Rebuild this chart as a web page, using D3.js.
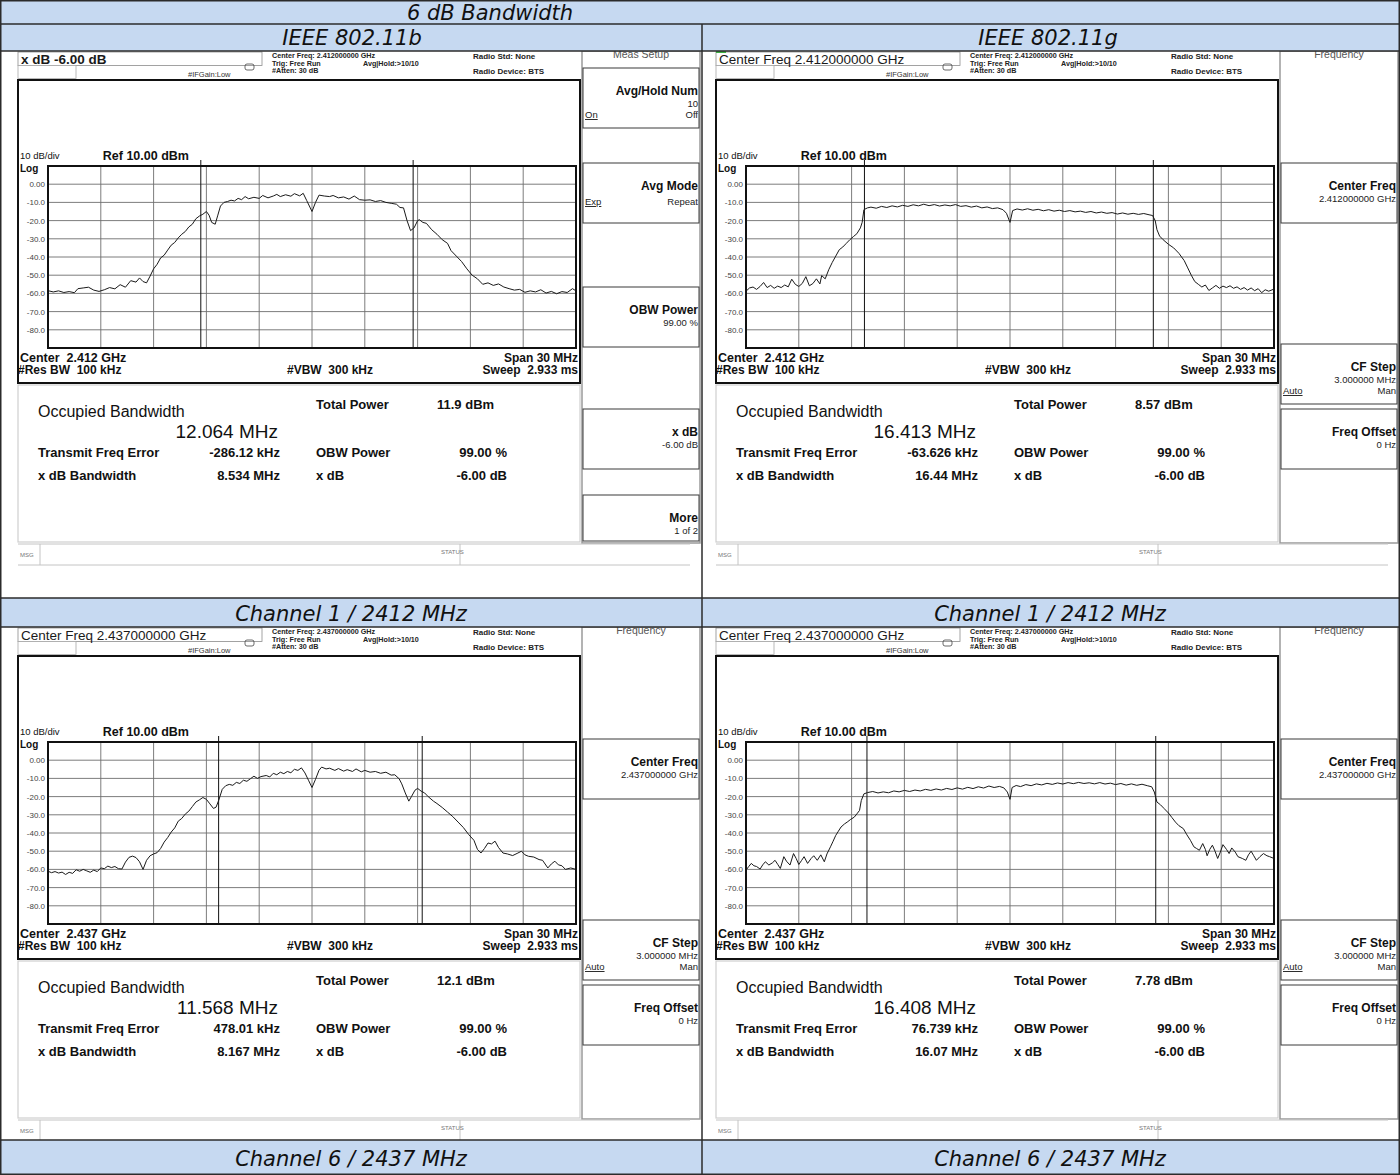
<!DOCTYPE html>
<html>
<head>
<meta charset="utf-8">
<script src="https://cdn.jsdelivr.net/npm/d3@7"></script>
<style>
  body { margin: 0; background: #fff; }
  svg text { white-space: pre; }
</style>
</head>
<body>
<script>
// ---- data ----
const tableTitle = "6 dB Bandwidth";
const standards = ["IEEE 802.11b", "IEEE 802.11g"];
const channelLabels = ["Channel 1 / 2412 MHz", "Channel 6 / 2437 MHz"];
const centerGHz = ["2.412", "2.437"];
const centerFreqLabel = ["2.412000000 GHz", "2.437000000 GHz"];

// panel order: 11b ch1, 11g ch1, 11b ch6, 11g ch6
const obwMHz = [12.064, 16.413, 11.568, 16.408];
const totalPower = ["11.9 dBm", "8.57 dBm", "12.1 dBm", "7.78 dBm"];
const freqError = ["-286.12 kHz", "-63.626 kHz", "478.01 kHz", "76.739 kHz"];
const xdbBandwidth = ["8.534 MHz", "16.44 MHz", "8.167 MHz", "16.07 MHz"];

const yTickValues = [0, -10, -20, -30, -40, -50, -60, -70, -80];
const yTickLabels = ["0.00", "-10.0", "-20.0", "-30.0", "-40.0", "-50.0", "-60.0", "-70.0", "-80.0"];
const xGridMHz = [-12, -9, -6, -3, 0, 3, 6, 9, 12];

// traces: [offset from center in MHz, level in dBm]
const traceB1 = [[-15.0,-58.5],[-14.7,-59.2],[-14.4,-58.6],[-14.1,-59.5],[-13.8,-59.0],[-13.5,-59.6],[-13.3,-57.4],[-13.0,-57.0],[-12.7,-56.6],[-12.4,-58.2],[-12.1,-58.9],[-11.8,-58.0],[-11.5,-56.8],[-11.2,-57.5],[-10.9,-55.2],[-10.6,-56.6],[-10.3,-53.0],[-10.0,-53.8],[-9.8,-51.5],[-9.6,-53.5],[-9.4,-54.2],[-9.2,-50.5],[-9.0,-46.5],[-8.8,-44.0],[-8.6,-40.5],[-8.4,-39.0],[-8.2,-36.2],[-8.0,-33.5],[-7.8,-32.0],[-7.6,-29.5],[-7.4,-27.5],[-7.2,-26.0],[-7.0,-23.5],[-6.8,-22.0],[-6.6,-19.0],[-6.4,-17.5],[-6.2,-16.5],[-6.0,-15.0],[-5.85,-17.0],[-5.7,-21.0],[-5.5,-22.0],[-5.35,-17.0],[-5.2,-12.0],[-5.0,-10.0],[-4.8,-9.5],[-4.6,-8.8],[-4.4,-9.2],[-4.2,-7.8],[-4.0,-8.5],[-3.8,-6.8],[-3.6,-8.0],[-3.3,-7.2],[-3.0,-7.8],[-2.8,-6.2],[-2.5,-7.5],[-2.2,-6.5],[-2.0,-5.6],[-1.8,-6.8],[-1.5,-5.8],[-1.2,-6.6],[-1.0,-5.2],[-0.7,-6.4],[-0.5,-5.0],[-0.3,-9.0],[0.0,-15.0],[0.2,-10.0],[0.4,-6.0],[0.7,-6.5],[1.0,-6.8],[1.2,-6.2],[1.5,-7.5],[1.8,-7.0],[2.1,-8.2],[2.4,-6.5],[2.7,-8.5],[3.0,-8.8],[3.3,-8.6],[3.6,-9.5],[3.9,-9.0],[4.2,-10.0],[4.5,-10.5],[4.8,-11.0],[5.0,-12.8],[5.2,-13.0],[5.4,-20.0],[5.6,-25.5],[5.8,-24.0],[6.0,-20.0],[6.1,-19.5],[6.3,-21.0],[6.5,-21.5],[6.8,-25.0],[7.1,-27.5],[7.4,-30.5],[7.7,-32.5],[7.9,-36.5],[8.2,-39.5],[8.5,-42.5],[8.8,-46.5],[9.1,-50.0],[9.4,-52.0],[9.7,-55.0],[10.0,-54.2],[10.3,-55.6],[10.6,-54.8],[10.9,-56.5],[11.2,-57.4],[11.5,-58.2],[11.8,-57.8],[12.1,-59.4],[12.4,-58.6],[12.7,-59.2],[13.0,-58.0],[13.3,-59.8],[13.6,-58.9],[13.9,-60.2],[14.2,-59.0],[14.5,-59.5],[14.8,-57.4],[15.0,-58.6]];

const traceG1 = [[-15.0,-58.8],[-14.8,-57.0],[-14.6,-56.5],[-14.4,-57.8],[-14.2,-56.2],[-14.0,-54.0],[-13.8,-56.8],[-13.6,-55.6],[-13.4,-57.2],[-13.2,-56.0],[-13.0,-56.8],[-12.8,-55.4],[-12.6,-56.4],[-12.4,-52.2],[-12.2,-55.0],[-12.0,-56.2],[-11.8,-54.5],[-11.6,-50.8],[-11.4,-55.8],[-11.2,-54.6],[-11.0,-52.0],[-10.8,-54.8],[-10.7,-50.2],[-10.5,-52.0],[-10.3,-47.0],[-10.1,-43.0],[-9.9,-39.5],[-9.7,-36.0],[-9.5,-34.5],[-9.3,-32.5],[-9.1,-30.5],[-8.9,-28.8],[-8.7,-27.2],[-8.5,-24.0],[-8.4,-21.0],[-8.3,-14.0],[-8.1,-13.0],[-7.9,-12.6],[-7.6,-13.2],[-7.3,-12.2],[-7.0,-12.8],[-6.7,-11.9],[-6.4,-12.5],[-6.1,-11.6],[-5.8,-12.2],[-5.5,-11.3],[-5.2,-11.9],[-4.9,-11.0],[-4.6,-11.8],[-4.3,-11.2],[-4.0,-12.0],[-3.7,-11.4],[-3.4,-11.9],[-3.1,-11.2],[-2.8,-12.2],[-2.5,-11.8],[-2.2,-12.6],[-1.9,-12.0],[-1.6,-13.0],[-1.3,-12.5],[-1.0,-13.4],[-0.7,-13.0],[-0.4,-14.0],[-0.2,-16.0],[0.0,-21.0],[0.15,-14.5],[0.4,-13.6],[0.7,-14.2],[1.0,-13.5],[1.3,-14.3],[1.6,-13.8],[1.9,-14.6],[2.2,-14.0],[2.5,-14.8],[2.8,-14.3],[3.1,-15.0],[3.4,-14.5],[3.7,-15.2],[4.0,-14.8],[4.3,-15.5],[4.6,-15.0],[4.9,-15.8],[5.2,-15.3],[5.5,-16.0],[5.8,-15.6],[6.1,-16.4],[6.4,-15.8],[6.7,-16.5],[7.0,-16.0],[7.3,-16.6],[7.6,-16.1],[7.9,-16.8],[8.1,-17.2],[8.25,-20.0],[8.35,-25.0],[8.5,-28.5],[8.7,-30.5],[9.0,-33.0],[9.3,-35.0],[9.6,-38.0],[9.9,-42.0],[10.1,-46.0],[10.3,-50.0],[10.5,-53.5],[10.7,-55.0],[10.9,-56.5],[11.1,-55.4],[11.3,-58.4],[11.5,-57.0],[11.7,-55.6],[11.9,-57.2],[12.1,-56.0],[12.3,-56.8],[12.5,-55.8],[12.7,-57.2],[12.9,-56.4],[13.1,-57.8],[13.3,-56.8],[13.5,-58.2],[13.7,-57.0],[13.9,-58.5],[14.1,-57.4],[14.3,-59.6],[14.5,-58.0],[14.7,-58.8],[15.0,-57.6]];

const traceB6 = [[-15.0,-61.0],[-14.8,-61.8],[-14.6,-61.2],[-14.4,-62.0],[-14.2,-61.5],[-14.0,-62.8],[-13.8,-61.6],[-13.6,-62.2],[-13.4,-60.2],[-13.2,-61.0],[-13.0,-60.0],[-12.8,-60.8],[-12.6,-61.6],[-12.4,-60.4],[-12.2,-61.2],[-12.0,-59.2],[-11.8,-59.6],[-11.6,-58.2],[-11.4,-59.0],[-11.2,-58.4],[-11.0,-59.6],[-10.8,-59.8],[-10.6,-56.0],[-10.4,-53.4],[-10.2,-52.7],[-10.0,-53.5],[-9.8,-55.8],[-9.6,-60.0],[-9.4,-55.0],[-9.2,-52.5],[-9.0,-51.5],[-8.8,-50.8],[-8.6,-48.5],[-8.4,-45.0],[-8.2,-42.5],[-8.0,-39.5],[-7.8,-37.2],[-7.6,-33.5],[-7.4,-32.0],[-7.2,-29.6],[-7.0,-28.0],[-6.8,-25.5],[-6.6,-23.0],[-6.4,-21.8],[-6.2,-20.5],[-6.0,-21.5],[-5.8,-24.0],[-5.6,-26.5],[-5.45,-25.8],[-5.3,-22.0],[-5.1,-16.0],[-4.9,-14.0],[-4.7,-13.3],[-4.5,-13.8],[-4.3,-12.2],[-4.1,-12.8],[-3.9,-11.0],[-3.7,-11.6],[-3.5,-10.2],[-3.3,-8.8],[-3.1,-10.0],[-2.9,-9.0],[-2.6,-8.4],[-2.4,-9.2],[-2.2,-7.2],[-2.0,-8.0],[-1.8,-6.6],[-1.6,-7.4],[-1.4,-6.2],[-1.2,-6.9],[-1.0,-5.0],[-0.8,-5.6],[-0.6,-4.2],[-0.4,-7.0],[-0.2,-11.0],[0.0,-15.0],[0.2,-10.5],[0.4,-5.5],[0.55,-3.8],[0.8,-4.8],[1.0,-4.4],[1.3,-5.6],[1.5,-4.6],[1.8,-6.0],[2.0,-5.2],[2.3,-6.2],[2.5,-4.8],[2.8,-6.4],[3.0,-5.6],[3.3,-6.6],[3.6,-6.2],[3.9,-7.2],[4.2,-6.6],[4.5,-8.2],[4.7,-8.0],[4.95,-10.2],[5.1,-13.0],[5.3,-18.0],[5.5,-22.5],[5.65,-20.0],[5.85,-16.5],[6.0,-15.5],[6.2,-17.0],[6.4,-18.0],[6.6,-20.0],[6.9,-22.5],[7.1,-23.8],[7.4,-26.0],[7.7,-28.5],[8.0,-31.0],[8.3,-34.0],[8.6,-37.0],[8.9,-40.8],[9.2,-44.0],[9.4,-49.0],[9.6,-51.0],[9.8,-48.5],[10.0,-45.5],[10.2,-46.0],[10.4,-44.5],[10.6,-48.0],[10.85,-51.0],[11.1,-51.5],[11.4,-52.4],[11.7,-51.0],[11.9,-50.0],[12.1,-52.0],[12.3,-52.8],[12.6,-53.2],[12.9,-54.6],[13.1,-55.0],[13.4,-59.2],[13.6,-57.0],[13.8,-55.5],[14.0,-57.5],[14.2,-58.0],[14.4,-60.0],[14.7,-59.2],[15.0,-60.0]];

const traceG6 = [[-15.0,-60.4],[-14.85,-58.5],[-14.7,-56.7],[-14.55,-58.0],[-14.4,-58.4],[-14.2,-59.8],[-14.05,-57.5],[-13.9,-55.8],[-13.7,-57.6],[-13.5,-56.4],[-13.35,-55.0],[-13.2,-57.2],[-13.05,-59.5],[-12.85,-53.0],[-12.7,-55.5],[-12.5,-57.6],[-12.3,-51.3],[-12.15,-54.0],[-12.0,-57.3],[-11.85,-55.2],[-11.7,-53.0],[-11.5,-56.7],[-11.3,-54.0],[-11.15,-52.5],[-10.95,-55.0],[-10.75,-52.0],[-10.55,-55.8],[-10.4,-51.5],[-10.2,-47.6],[-10.05,-44.5],[-9.9,-41.3],[-9.75,-39.0],[-9.6,-36.7],[-9.4,-35.0],[-9.25,-34.0],[-9.05,-32.5],[-8.85,-31.3],[-8.7,-29.5],[-8.55,-27.6],[-8.45,-22.2],[-8.3,-18.5],[-8.1,-17.8],[-7.8,-17.2],[-7.5,-18.0],[-7.2,-17.4],[-6.9,-17.9],[-6.6,-16.9],[-6.3,-17.4],[-6.0,-16.6],[-5.7,-17.2],[-5.4,-16.4],[-5.1,-16.9],[-4.8,-16.0],[-4.5,-16.6],[-4.2,-15.8],[-3.9,-16.4],[-3.6,-15.5],[-3.3,-16.1],[-3.0,-15.2],[-2.7,-15.9],[-2.4,-14.9],[-2.1,-15.6],[-1.8,-14.6],[-1.5,-15.3],[-1.2,-14.2],[-0.9,-15.0],[-0.6,-14.4],[-0.35,-15.2],[-0.15,-17.5],[0.0,-21.5],[0.12,-15.0],[0.35,-13.9],[0.6,-14.5],[0.9,-13.4],[1.2,-14.0],[1.5,-13.0],[1.8,-13.6],[2.1,-12.7],[2.4,-13.3],[2.7,-12.5],[3.0,-13.1],[3.3,-12.3],[3.6,-12.9],[3.9,-12.2],[4.2,-12.8],[4.5,-12.4],[4.8,-13.0],[5.1,-12.3],[5.4,-13.1],[5.7,-12.6],[6.0,-13.4],[6.3,-12.8],[6.6,-13.7],[6.9,-13.0],[7.2,-13.8],[7.5,-13.2],[7.8,-14.0],[8.05,-14.6],[8.2,-17.5],[8.35,-23.0],[8.55,-24.5],[8.75,-26.5],[9.0,-29.0],[9.2,-31.5],[9.4,-34.0],[9.6,-36.0],[9.85,-37.6],[10.05,-41.0],[10.25,-44.0],[10.45,-47.6],[10.6,-48.5],[10.76,-49.5],[10.95,-45.8],[11.1,-49.0],[11.2,-52.5],[11.35,-49.0],[11.5,-46.7],[11.65,-50.0],[11.8,-54.0],[11.95,-50.5],[12.1,-46.4],[12.3,-49.0],[12.45,-51.3],[12.6,-48.2],[12.8,-50.5],[12.95,-53.0],[13.2,-54.0],[13.4,-55.0],[13.55,-52.0],[13.7,-50.0],[13.85,-52.5],[14.0,-55.0],[14.2,-53.0],[14.4,-51.3],[14.6,-52.5],[14.75,-53.0],[15.0,-54.0]];

const traces = [traceB1, traceG1, traceB6, traceG6];

// softkey menus
const measSetupKeys = [
  { slot: 0, label: "Avg/Hold Num", sub: "10", left: "On", right: "Off" },
  { slot: 1, label: "Avg Mode", left: "Exp", right: "Repeat" },
  { slot: 3, label: "OBW Power", sub: "99.00 %" },
  { slot: 5, label: "x dB", sub: "-6.00 dB" },
  { slot: 6, label: "More", sub: "1 of 2" }
];
function frequencyKeys(ch) {
  return [
    { slot: 1, label: "Center Freq", sub: centerFreqLabel[ch] },
    { slot: 4, label: "CF Step", sub: "3.000000 MHz", left: "Auto", right: "Man" },
    { slot: 5, label: "Freq Offset", sub: "0 Hz" }
  ];
}

// ---- layout ----
const width = 1400, height = 1175;
const rowTop = [0, 24, 51, 598, 627, 1140, 1175];
const colSplit = 702;
const panelX = [18, 716], panelY = [51, 627];
const slotTop = [17, 112, 174, 236, 293, 358, 444];

const blue = "#c6d9f1";
const fontMain = "'Liberation Sans', Arial, sans-serif";
const fontNarrow = "'Liberation Sans Narrow', 'Liberation Sans', Arial, sans-serif";

const svg = d3.select("body").append("svg")
  .attr("width", width)
  .attr("height", height);

svg.append("rect").attr("width", width).attr("height", height).attr("fill", "#fff");

// small helper for text
function txt(sel, x, y, s, o = {}) {
  return sel.append("text")
    .attr("x", x).attr("y", y)
    .attr("font-family", o.family || fontMain)
    .attr("font-size", o.size || 10)
    .attr("font-weight", o.weight || "normal")
    .attr("fill", o.fill || "#111")
    .attr("text-anchor", o.anchor || "start")
    .text(s);
}

function drawPanel(g, i) {
  const ch = Math.floor(i / 2);

  // top measurement bar
  g.append("rect").attr("x", 0).attr("y", 1).attr("width", 244).attr("height", 13.5)
    .attr("fill", "#fff").attr("stroke", "#8c8c8c").attr("stroke-width", 0.8);
  txt(g, 3, 12.5, i === 0 ? "x dB -6.00 dB" : "Center Freq " + centerFreqLabel[ch],
    { size: 13.5, weight: i === 0 ? "bold" : "normal", fill: "#1a1a1a" });
  if (i === 1) {
    g.append("line").attr("x1", 0).attr("x2", 10).attr("y1", 1).attr("y2", 1)
      .attr("stroke", "#3cb043").attr("stroke-width", 2);
  }
  g.append("rect").attr("x", 0).attr("y", 14.5).attr("width", 58).attr("height", 13)
    .attr("fill", "#fff").attr("stroke", "#a8a8a8").attr("stroke-width", 0.8);
  g.append("rect").attr("x", 227).attr("y", 13).attr("width", 9).attr("height", 6).attr("rx", 2)
    .attr("fill", "none").attr("stroke", "#444").attr("stroke-width", 0.8);
  txt(g, 170, 26, "#IFGain:Low", { size: 7.5, family: fontNarrow, fill: "#333" });
  txt(g, 254, 7, "Center Freq: " + centerFreqLabel[ch], { size: 7.2, family: fontNarrow, weight: "bold", fill: "#222" });
  txt(g, 254, 14.5, "Trig: Free Run", { size: 7.2, family: fontNarrow, weight: "bold", fill: "#222" });
  txt(g, 345, 14.5, "Avg|Hold:>10/10", { size: 7.2, family: fontNarrow, weight: "bold", fill: "#222" });
  txt(g, 254, 22, "#Atten: 30 dB", { size: 7.2, family: fontNarrow, weight: "bold", fill: "#222" });
  txt(g, 455, 8, "Radio Std: None", { size: 8, weight: "bold", fill: "#222" });
  txt(g, 455, 23, "Radio Device: BTS", { size: 8, weight: "bold", fill: "#222" });

  // graph window
  g.append("rect").attr("x", 0).attr("y", 29).attr("width", 562).attr("height", 303)
    .attr("fill", "#fff").attr("stroke", "#111").attr("stroke-width", 2);

  const gx0 = 30, gx1 = 558, gy0 = 115, gy1 = 297;
  const x = d3.scaleLinear().domain([-15, 15]).range([gx0, gx1]);
  const y = d3.scaleLinear().domain([-90, 10]).range([gy1, gy0]);

  txt(g, 2, 108, "10 dB/div", { size: 9.5 });
  txt(g, x(xGridMHz[0]) + 2, 109, "Ref 10.00 dBm", { size: 12.5, weight: "bold" });
  txt(g, 2, 121, "Log", { size: 10, weight: "bold" });

  // grid
  g.append("g").selectAll("line").data(yTickValues).join("line")
    .attr("x1", gx0).attr("x2", gx1)
    .attr("y1", d => y(d)).attr("y2", d => y(d))
    .attr("stroke", "#6e6e6e").attr("stroke-width", 0.9);
  g.append("g").selectAll("line").data(xGridMHz).join("line")
    .attr("x1", d => x(d)).attr("x2", d => x(d))
    .attr("y1", gy0).attr("y2", gy1)
    .attr("stroke", "#6e6e6e").attr("stroke-width", 0.9);

  // y labels
  g.append("g")
    .attr("transform", `translate(${gx0},0)`)
    .call(d3.axisLeft(y).tickValues(yTickValues).tickFormat((d, k) => yTickLabels[k]).tickSize(0).tickPadding(3))
    .call(a => a.select(".domain").remove())
    .selectAll("text")
    .attr("font-family", fontMain).attr("font-size", 8).attr("fill", "#444");

  // OBW edge markers (centre shifted by the frequency error)
  const fc = parseFloat(freqError[i]) / 1000;
  const edges = [fc - obwMHz[i] / 2, fc + obwMHz[i] / 2];
  g.append("g").selectAll("line").data(edges).join("line")
    .attr("x1", d => x(d)).attr("x2", d => x(d))
    .attr("y1", gy0 - 6).attr("y2", gy1)
    .attr("stroke", "#111").attr("stroke-width", 1);

  // trace
  const line = d3.line().x(d => x(d[0])).y(d => y(d[1]));
  g.append("path").datum(traces[i]).attr("d", line)
    .attr("fill", "none").attr("stroke", "#1a1a1a").attr("stroke-width", 1)
    .attr("stroke-linejoin", "round");

  g.append("rect").attr("x", gx0).attr("y", gy0).attr("width", gx1 - gx0).attr("height", gy1 - gy0)
    .attr("fill", "none").attr("stroke", "#111").attr("stroke-width", 2);

  txt(g, 2, 311, "Center  " + centerGHz[ch] + " GHz", { size: 12.5, weight: "bold" });
  txt(g, 0, 323, "#Res BW  100 kHz", { size: 12, weight: "bold" });
  txt(g, 269, 323, "#VBW  300 kHz", { size: 12, weight: "bold" });
  txt(g, 560, 311, "Span 30 MHz", { size: 12, weight: "bold", anchor: "end" });
  txt(g, 560, 323, "Sweep  2.933 ms", { size: 12, weight: "bold", anchor: "end" });

  // results window
  g.append("rect").attr("x", 0).attr("y", 334).attr("width", 562).attr("height", 157)
    .attr("fill", "#fff").attr("stroke", "#cfcfcf").attr("stroke-width", 1.2);
  txt(g, 20, 366, "Occupied Bandwidth", { size: 16 });
  txt(g, 260, 387, obwMHz[i].toFixed(3) + " MHz", { size: 19, anchor: "end" });
  txt(g, 298, 358, "Total Power", { size: 13, weight: "bold" });
  txt(g, 419, 358, totalPower[i], { size: 13, weight: "bold" });
  txt(g, 20, 406, "Transmit Freq Error", { size: 13, weight: "bold" });
  txt(g, 262, 406, freqError[i], { size: 13, weight: "bold", anchor: "end" });
  txt(g, 298, 406, "OBW Power", { size: 13, weight: "bold" });
  txt(g, 489, 406, "99.00 %", { size: 13, weight: "bold", anchor: "end" });
  txt(g, 20, 429, "x dB Bandwidth", { size: 13, weight: "bold" });
  txt(g, 262, 429, xdbBandwidth[i], { size: 13, weight: "bold", anchor: "end" });
  txt(g, 298, 429, "x dB", { size: 13, weight: "bold" });
  txt(g, 489, 429, "-6.00 dB", { size: 13, weight: "bold", anchor: "end" });

  // softkey panel
  const px0 = 564, px1 = 682;
  g.append("rect").attr("x", px0).attr("y", 0).attr("width", px1 - px0).attr("height", 492)
    .attr("fill", "#fff").attr("stroke", "#9a9a9a").attr("stroke-width", 1.5);
  txt(g, (px0 + px1) / 2, 7, i === 0 ? "Meas Setup" : "Frequency", { size: 10.5, fill: "#555", anchor: "middle" });

  const keys = i === 0 ? measSetupKeys : frequencyKeys(ch);
  keys.forEach(k => {
    const t = slotTop[k.slot];
    const h = Math.min(60, 490 - t);
    g.append("rect").attr("x", px0 + 1).attr("y", t).attr("width", px1 - px0 - 2).attr("height", h)
      .attr("fill", "#fff").attr("stroke", "#3a3a3a").attr("stroke-width", 1);
    txt(g, px1 - 2, t + 27, k.label, { size: 12, weight: "bold", anchor: "end" });
    if (k.sub) txt(g, px1 - 2, t + 39, k.sub, { size: 9.5, anchor: "end", fill: "#222" });
    const ly = k.sub ? t + 50 : t + 42;
    if (k.left) txt(g, px0 + 3, ly, k.left, { size: 9.5, fill: "#222" }).attr("text-decoration", "underline");
    if (k.right) txt(g, px1 - 2, ly, k.right, { size: 9.5, anchor: "end", fill: "#222" });
  });

  // status bar
  g.append("line").attr("x1", 0).attr("x2", 672).attr("y1", 493).attr("y2", 493).attr("stroke", "#c4c4c4");
  g.append("line").attr("x1", 0).attr("x2", 672).attr("y1", 514).attr("y2", 514).attr("stroke", "#c4c4c4");
  g.append("line").attr("x1", 22).attr("x2", 22).attr("y1", 493).attr("y2", 514).attr("stroke", "#c4c4c4");
  g.append("line").attr("x1", 442).attr("x2", 442).attr("y1", 493).attr("y2", 514).attr("stroke", "#c4c4c4");
  txt(g, 2, 506, "MSG", { size: 6, fill: "#777" });
  txt(g, 423, 503, "STATUS", { size: 6, fill: "#777" });
}

// screenshots
[0, 1, 2, 3].forEach(i => {
  const g = svg.append("g")
    .attr("transform", `translate(${panelX[i % 2]},${panelY[Math.floor(i / 2)]})`);
  drawPanel(g, i);
});

// table rows drawn on top
const table = svg.append("g");
const blueRows = [0, 1, 3, 5];
table.selectAll("rect.band").data(blueRows).join("rect")
  .attr("class", "band")
  .attr("x", 0).attr("width", width)
  .attr("y", r => rowTop[r]).attr("height", r => rowTop[r + 1] - rowTop[r])
  .attr("fill", blue);

// row lines
table.selectAll("line.row").data(rowTop).join("line")
  .attr("class", "row")
  .attr("x1", 0).attr("x2", width)
  .attr("y1", d => d).attr("y2", d => d)
  .attr("stroke", "#2b2b2b").attr("stroke-width", 1.5);
table.append("line")
  .attr("x1", colSplit).attr("x2", colSplit)
  .attr("y1", rowTop[1]).attr("y2", height)
  .attr("stroke", "#2b2b2b").attr("stroke-width", 1.5);
table.append("rect").attr("x", 0.75).attr("y", 0.75).attr("width", width - 1.5).attr("height", height - 1.5)
  .attr("fill", "none").attr("stroke", "#2b2b2b").attr("stroke-width", 1.5);

const italic = (sel, x, y, s) => sel.append("text")
  .attr("x", x).attr("y", y)
  .attr("text-anchor", "middle")
  .attr("font-family", "'DejaVu Sans', Verdana, sans-serif")
  .attr("font-style", "italic")
  .attr("font-size", 21)
  .attr("fill", "#111")
  .text(s);

italic(table, 490, 20, tableTitle);
standards.forEach((s, c) => italic(table, c === 0 ? 352 : 1048, 45, s));
[3, 5].forEach((r, k) => {
  const yy = (rowTop[r] + rowTop[r + 1]) / 2 + 8;
  [0, 1].forEach(c => italic(table, c === 0 ? 351 : 1050, yy, channelLabels[k]));
});
</script>
</body>
</html>
